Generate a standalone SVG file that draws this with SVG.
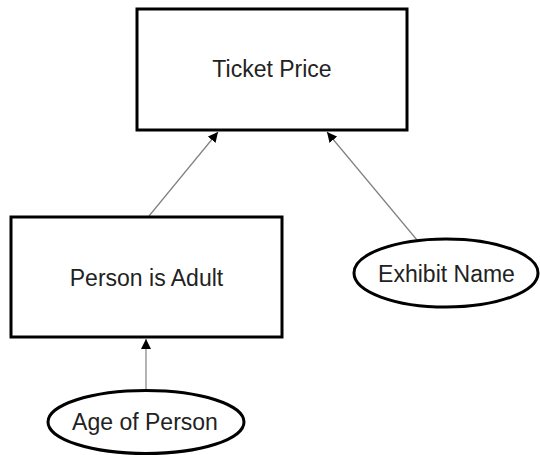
<svg xmlns="http://www.w3.org/2000/svg" width="540" height="455" viewBox="0 0 540 455">
  <style>
    .box { fill: #fff; stroke: #000; stroke-width: 3; }
    .lbl { font-family: "Liberation Sans", Arial, sans-serif; font-size: 23px; fill: #222; text-anchor: middle; }
    .edge { stroke: #808080; stroke-width: 1.2; fill: none; marker-end: url(#arr); }
  </style>
  <defs>
    <marker id="arr" viewBox="0 0 10 10" refX="10" refY="5" markerWidth="10" markerHeight="10" markerUnits="userSpaceOnUse" orient="auto">
      <path d="M0,0 L10,5 L0,10 Z" fill="#000"/>
    </marker>
  </defs>
  <rect width="540" height="455" fill="#fff"/>
  <g id="connectors">
    <line class="edge" x1="149" y1="216" x2="218" y2="132"/>
    <line class="edge" x1="417" y1="240" x2="327" y2="132"/>
    <line class="edge" x1="146" y1="390" x2="146" y2="339"/>
  </g>
  <g id="ticket-price">
    <rect class="box" x="137" y="9" width="270" height="121"/>
    <text class="lbl" x="272" y="77">Ticket Price</text>
  </g>
  <g id="person-is-adult">
    <rect class="box" x="11" y="217" width="271" height="120"/>
    <text class="lbl" x="146.5" y="286">Person is Adult</text>
  </g>
  <g id="exhibit-name">
    <ellipse class="box" cx="446" cy="273" rx="92" ry="34"/>
    <text class="lbl" x="446.5" y="282">Exhibit Name</text>
  </g>
  <g id="age-of-person">
    <ellipse class="box" cx="146" cy="422" rx="98" ry="31.5"/>
    <text class="lbl" x="145" y="430">Age of Person</text>
  </g>
</svg>
